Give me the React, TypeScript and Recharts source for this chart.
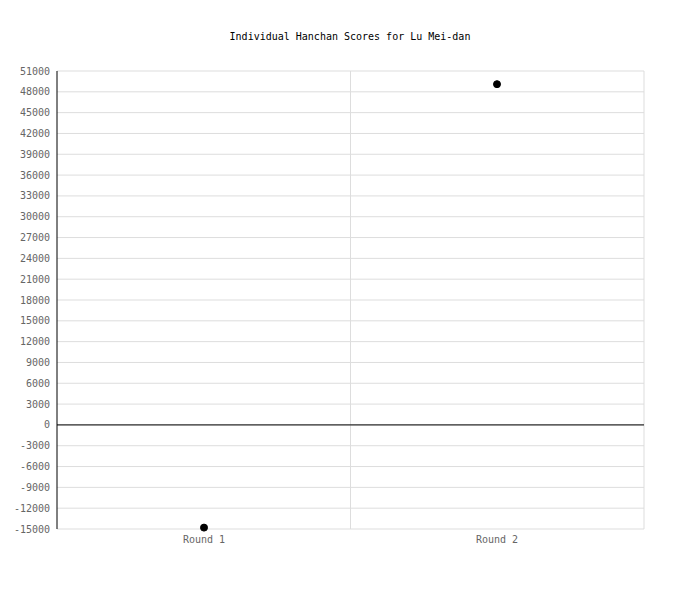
import { LineChart, Line, XAxis, YAxis, CartesianGrid, ReferenceLine } from 'recharts';

const rounds = ['Round 1', 'Round 2'];
const scores = [-14800, 49100];
const yTicks = [
  -15000, -12000, -9000, -6000, -3000, 0, 3000, 6000, 9000, 12000, 15000, 18000,
  21000, 24000, 27000, 30000, 33000, 36000, 39000, 42000, 45000, 48000, 51000,
];

const data = rounds.map((name, i) => ({ name, score: scores[i] }));

const FONT = '"DejaVu Sans Mono", "Liberation Mono", monospace';

export default function App() {
  return (
    <div style={{ position: 'absolute', left: 0, top: 0, width: 700, height: 600, background: '#fff' }}>
      <div
        style={{
          position: 'absolute',
          top: 31,
          left: 0,
          width: 700,
          textAlign: 'center',
          fontFamily: FONT,
          fontSize: 10,
          color: '#000',
        }}
      >
        Individual Hanchan Scores for Lu Mei-dan
      </div>
      <LineChart width={700} height={600} data={data} margin={{ top: 71, right: 56, bottom: 41, left: 0 }}>
        <CartesianGrid
          stroke="#dddddd"
          verticalCoordinatesGenerator={({ offset }) => [offset.left + offset.width / 2, offset.left + offset.width]}
        />
        <XAxis
          dataKey="name"
          axisLine={false}
          tickLine={false}
          tickSize={0}
          tickMargin={7}
          padding={{ left: 147, right: 147 }}
          height={30}
          tick={{ fill: '#666', fontSize: 10, fontFamily: FONT }}
        />
        <YAxis
          type="number"
          domain={[-15000, 51000]}
          ticks={yTicks}
          interval={0}
          width={57}
          axisLine={{ stroke: '#000' }}
          tickLine={false}
          tickSize={5}
          tickMargin={2}
          tick={{ fill: '#666', fontSize: 10, fontFamily: FONT }}
        />
        <ReferenceLine y={0} stroke="#000" />
        <Line
          dataKey="score"
          stroke="none"
          dot={{ r: 3.5, fill: '#000', stroke: '#000', strokeWidth: 1 }}
          activeDot={false}
          isAnimationActive={false}
        />
      </LineChart>
    </div>
  );
}
